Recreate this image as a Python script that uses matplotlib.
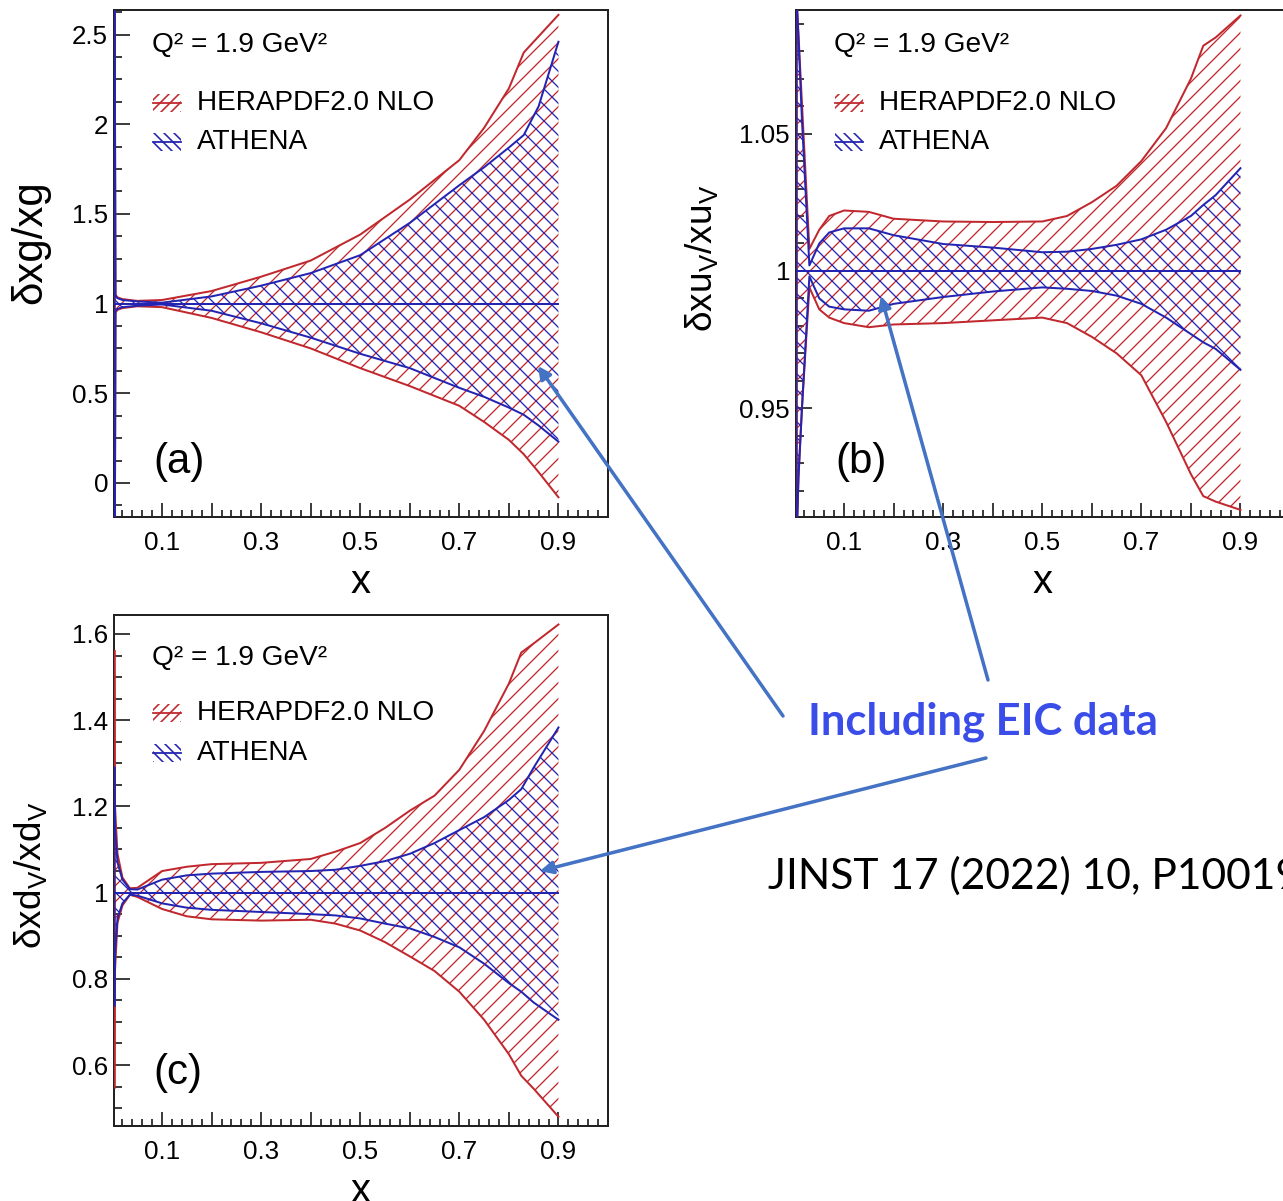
import numpy as np
import matplotlib
matplotlib.use('Agg')
import matplotlib.pyplot as plt
from matplotlib.ticker import FixedLocator, FixedFormatter, MultipleLocator
from matplotlib.patches import FancyArrowPatch
from matplotlib.lines import Line2D
from matplotlib.collections import LineCollection
from matplotlib.path import Path

plt.rcParams['font.family'] = ['Liberation Sans', 'DejaVu Sans']

RED = '#c0282e'
BLUE = '#2424b2'
ARROW = '#4472c4'
HATCH_STEP = 16 / 72  # inches

# ---- panel (a): gluon
xg_x = [0.004, 0.006, 0.01, 0.02, 0.05, 0.1, 0.2, 0.3, 0.4, 0.5, 0.6, 0.7, 0.75, 0.8, 0.83, 0.86, 0.9]
xg_her_up = [3.0, 1.05, 1.035, 1.025, 1.015, 1.02, 1.07, 1.15, 1.24, 1.385, 1.58, 1.80, 1.98, 2.2, 2.40, 2.49, 2.61]
xg_her_lo = [-1.0, 0.95, 0.965, 0.975, 0.985, 0.98, 0.92, 0.84, 0.75, 0.64, 0.54, 0.43, 0.34, 0.24, 0.16, 0.06, -0.08]
xg_ath_up = [3.0, 1.04, 1.03, 1.02, 1.012, 1.005, 1.04, 1.10, 1.17, 1.27, 1.45, 1.66, 1.76, 1.87, 1.94, 2.10, 2.46]
xg_ath_lo = [-1.0, 0.96, 0.97, 0.98, 0.988, 0.995, 0.96, 0.89, 0.81, 0.72, 0.64, 0.53, 0.48, 0.42, 0.38, 0.32, 0.23]

# ---- panel (b): u valence
xu_x = [0.004, 0.008, 0.015, 0.03, 0.05, 0.07, 0.1, 0.15, 0.2, 0.3, 0.4, 0.5, 0.55, 0.6, 0.65, 0.7, 0.75, 0.8, 0.825, 0.85, 0.9]
xu_her_up = [1.10, 1.086, 1.061, 1.008, 1.015, 1.02, 1.022, 1.0215, 1.019, 1.018, 1.0178, 1.018, 1.020, 1.025, 1.031, 1.04, 1.052, 1.07, 1.082, 1.085, 1.093]
xu_her_lo = [0.90, 0.925, 0.95, 0.994, 0.986, 0.983, 0.981, 0.9795, 0.9805, 0.981, 0.982, 0.983, 0.981, 0.976, 0.970, 0.962, 0.945, 0.926, 0.918, 0.916, 0.913]
xu_ath_up = [1.10, 1.085, 1.055, 1.002, 1.010, 1.014, 1.0155, 1.0155, 1.013, 1.0098, 1.0085, 1.0068, 1.007, 1.008, 1.0095, 1.0115, 1.015, 1.02, 1.024, 1.0276, 1.0374]
xu_ath_lo = [0.90, 0.925, 0.95, 0.998, 0.99, 0.987, 0.986, 0.9855, 0.988, 0.9905, 0.9925, 0.994, 0.9935, 0.9927, 0.991, 0.988, 0.983, 0.977, 0.974, 0.9716, 0.964]

# ---- panel (c): d valence
xd_x = [0.004, 0.005, 0.01, 0.02, 0.035, 0.05, 0.1, 0.15, 0.2, 0.3, 0.4, 0.45, 0.5, 0.55, 0.6, 0.65, 0.7, 0.75, 0.8, 0.825, 0.85, 0.9]
xd_her_up = [1.56, 1.2, 1.09, 1.035, 1.01, 1.011, 1.05, 1.06, 1.066, 1.069, 1.078, 1.095, 1.115, 1.15, 1.19, 1.225, 1.285, 1.375, 1.485, 1.557, 1.578, 1.622]
xd_her_lo = [0.55, 0.82, 0.93, 0.97, 0.995, 0.99, 0.962, 0.945, 0.938, 0.935, 0.937, 0.928, 0.912, 0.885, 0.852, 0.818, 0.77, 0.705, 0.625, 0.575, 0.545, 0.48]
xd_ath_up = [1.29, 1.15, 1.07, 1.03, 1.008, 1.007, 1.03, 1.04, 1.044, 1.048, 1.05, 1.053, 1.062, 1.073, 1.09, 1.115, 1.145, 1.175, 1.215, 1.24, 1.29, 1.383]
xd_ath_lo = [0.74, 0.86, 0.94, 0.975, 0.995, 0.993, 0.975, 0.965, 0.96, 0.955, 0.95, 0.947, 0.94, 0.928, 0.917, 0.897, 0.873, 0.835, 0.79, 0.77, 0.745, 0.705]

x_labels = ['', '0.1', '', '0.3', '', '0.5', '', '0.7', '', '0.9', '']

W, H = 1283, 1201
DPI = 72
fig = plt.figure(figsize=(W / DPI, H / DPI), dpi=DPI)
FW, FH = W / DPI, H / DPI


def px_rect(left, top, right, bottom):
    return [left / W, 1 - bottom / H, (right - left) / W, (bottom - top) / H]


def hatch_path(ax, path, trans, color, slope, lw=1.3, step=HATCH_STEP):
    # diagonal hatch lines (figure inches), clipped to the given path
    L = FW + FH
    segs = [[(c, 0), (c + slope * L, L)]
            for c in np.arange(-2 * L, 2 * L, step)]
    lc = LineCollection(segs, colors=color, linewidths=lw,
                        transform=fig.dpi_scale_trans, zorder=2)
    lc.set_clip_path(path, trans)
    ax.add_collection(lc, autolim=False)
    lc.set_clip_box(ax.bbox)


def draw_band(ax, x, lo, up, color, slope):
    poly = ax.fill_between(x, lo, up, facecolor='none', edgecolor='none',
                           linewidth=0)
    hatch_path(ax, poly.get_paths()[0], ax.transData, color, slope)
    ax.plot(x, up, color=color, lw=2.0, zorder=3)
    ax.plot(x, lo, color=color, lw=2.0, zorder=3)
    ax.plot([x[0], x[0]], [lo[0], up[0]], color=color, lw=3.0, alpha=0.6,
            zorder=3)


def setup(ax, ylim, yticks, ylabels, yminor, ylabel, ysize, ylab_pos, letter, lab_y):
    ax.set_xlim(0.003, 1.0)
    ax.set_ylim(*ylim)
    ax.xaxis.set_major_locator(FixedLocator(np.arange(0, 1.01, 0.1)))
    ax.xaxis.set_major_formatter(FixedFormatter(x_labels))
    ax.xaxis.set_minor_locator(MultipleLocator(0.02))
    ax.yaxis.set_major_locator(FixedLocator(yticks))
    ax.yaxis.set_major_formatter(FixedFormatter(ylabels))
    ax.yaxis.set_minor_locator(MultipleLocator(yminor))
    ax.tick_params(which='both', direction='in', top=False, right=False,
                   width=1.5, labelsize=26)
    ax.tick_params(axis='y', which='major', length=16, pad=6)
    ax.tick_params(axis='y', which='minor', length=8)
    ax.tick_params(axis='x', which='major', length=14, pad=14)
    ax.tick_params(axis='x', which='minor', length=7)
    for s in ax.spines.values():
        s.set_linewidth(2)
        s.set_color('#222222')
    ax.set_xlabel('x', fontsize=40, labelpad=8)
    ax.set_ylabel(ylabel, fontsize=ysize)
    ax.yaxis.set_label_coords(*ylab_pos)
    ax.text(0.077, lab_y[0], 'Q² = 1.9 GeV²', transform=ax.transAxes,
            fontsize=28, va='center')
    for (col, slope, name, yy) in [(RED, 1, 'HERAPDF2.0 NLO', lab_y[1]),
                                   (BLUE, -1, 'ATHENA', lab_y[2])]:
        x0, x1 = 0.079, 0.135
        y0, y1 = yy - 0.018, yy + 0.018
        rect = Path([(x0, y0), (x1, y0), (x1, y1), (x0, y1), (x0, y0)])
        hatch_path(ax, rect, ax.transAxes, col, slope, lw=1.6, step=10 / 72)
        ax.add_line(Line2D([x0, x1], [yy, yy], transform=ax.transAxes,
                           color=col, lw=1.8))
        ax.text(0.168, yy, name, transform=ax.transAxes, fontsize=28,
                va='center')
    ax.text(0.079, lab_y[3], letter, transform=ax.transAxes, fontsize=42,
            va='center')


# (a)
ax_a = fig.add_axes(px_rect(114, 10, 608, 517))
draw_band(ax_a, xg_x, xg_her_lo, xg_her_up, RED, 1)
draw_band(ax_a, xg_x, xg_ath_lo, xg_ath_up, BLUE, -1)
ax_a.plot([xg_x[0], xg_x[-1]], [1, 1], color=BLUE, lw=2.0, zorder=3)
setup(ax_a, (-0.19, 2.637), [0, 0.5, 1, 1.5, 2, 2.5],
      ['0', '0.5', '1', '1.5', '2', '2.5'], 0.125, 'δxg/xg', 42,
      (-0.13, 0.542), '(a)', [0.931, 0.817, 0.740, 0.108])

# (b)
ax_b = fig.add_axes(px_rect(796, 10, 1290, 517))
draw_band(ax_b, xu_x, xu_her_lo, xu_her_up, RED, 1)
draw_band(ax_b, xu_x, xu_ath_lo, xu_ath_up, BLUE, -1)
ax_b.plot([xu_x[0], xu_x[-1]], [1, 1], color=BLUE, lw=2.0, zorder=3)
setup(ax_b, (0.9104, 1.095), [0.95, 1.0, 1.05], ['0.95', '1', '1.05'], 0.01,
      r'δxu$_\mathregular{V}$/xu$_\mathregular{V}$', 37, (-0.152, 0.511),
      '(b)', [0.931, 0.817, 0.740, 0.108])

# (c)
ax_c = fig.add_axes(px_rect(114, 615, 608, 1126))
draw_band(ax_c, xd_x, xd_her_lo, xd_her_up, RED, 1)
draw_band(ax_c, xd_x, xd_ath_lo, xd_ath_up, BLUE, -1)
ax_c.plot([xd_x[0], xd_x[-1]], [1, 1], color=BLUE, lw=2.0, zorder=3)
setup(ax_c, (0.4585, 1.644), [0.6, 0.8, 1.0, 1.2, 1.4, 1.6],
      ['0.6', '0.8', '1', '1.2', '1.4', '1.6'], 0.05,
      r'δxd$_\mathregular{V}$/xd$_\mathregular{V}$', 37, (-0.13, 0.49),
      '(c)', [0.916, 0.808, 0.730, 0.104])

# annotation arrows (figure pixel coordinates, y from top)
for (x0, y0, x1, y1) in [(783, 716, 538, 366), (988, 680, 881, 296),
                         (986, 758, 540, 871)]:
    fig.add_artist(FancyArrowPatch((x0 / W, 1 - y0 / H), (x1 / W, 1 - y1 / H),
                                   transform=fig.transFigure,
                                   arrowstyle='-|>', mutation_scale=26,
                                   color=ARROW, lw=3.5, shrinkA=0, shrinkB=0))

fig.text(808 / W, 1 - 722 / H, 'Including EIC data', color='#3a4de8',
         fontsize=43.5, fontweight='bold', family='Lato', va='center')
fig.text(768 / W, 1 - 876 / H, 'JINST 17 (2022) 10, P10019', color='black',
         fontsize=42.5, family='Lato', va='center')

fig.savefig('out.png', dpi=DPI)
